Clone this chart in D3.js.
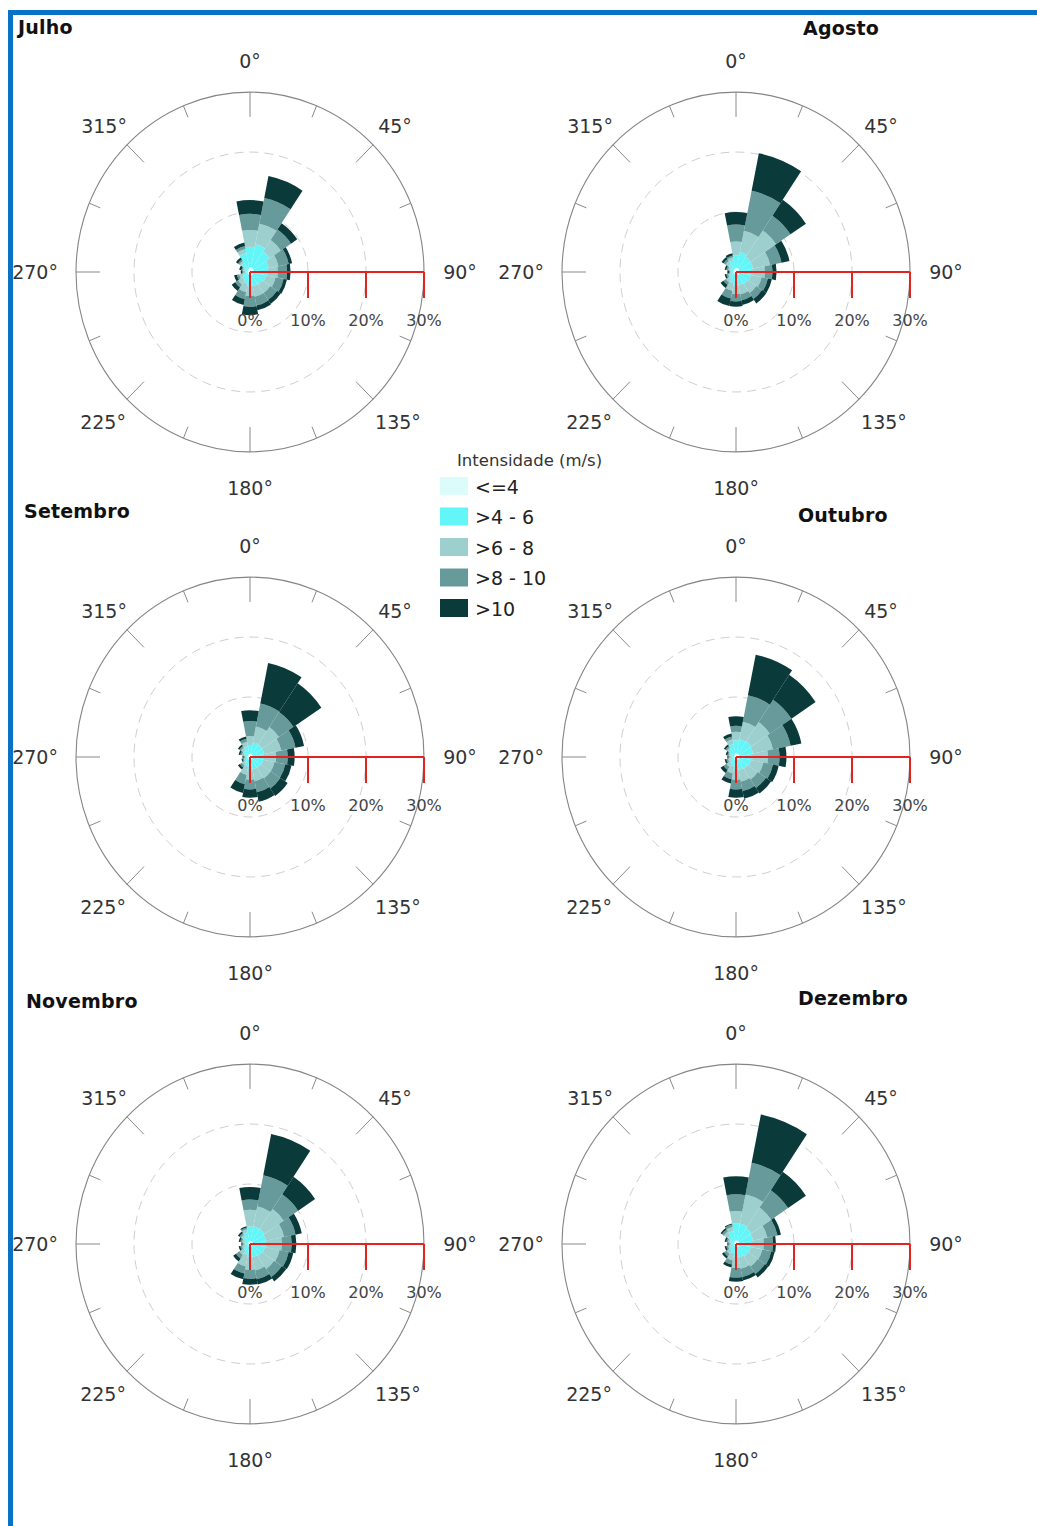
<!DOCTYPE html>
<html>
<head>
<meta charset="utf-8">
<script src="https://cdn.jsdelivr.net/npm/d3@7"></script>
<style>
  body { margin: 0; background: #fff; }
  svg { display: block; }
  text { font-family: "DejaVu Sans", Verdana, sans-serif; }
</style>
</head>
<body>
<svg id="chart" width="1037" height="1526"></svg>
<script>
// ---- data -------------------------------------------------------------
const directions = ["N","NNE","NE","ENE","E","ESE","SE","SSE","S","SSW","SW","WSW","W","WNW","NW","NNW"];
const classes = ["<=4", ">4 - 6", ">6 - 8", ">8 - 10", ">10"];
const classColors = ["#dcfbfb", "#62f6f9", "#9dcfcf", "#679b9b", "#0b3a3a"];
const angleTicks = [0, 45, 90, 135, 180, 225, 270, 315];
const pctTicks = [0, 10, 20, 30];
const months = ["Julho", "Agosto", "Setembro", "Outubro", "Novembro", "Dezembro"];

// frequency (%) per speed class (rows, same order as `classes`) and direction (columns)
const julho = [
  [0.8,0.8,0.7,0.7,0.6,0.6,0.6,0.6,0.5,0.5,0.5,0.4,0.4,0.4,0.5,0.6],
  [3.4,3.9,3.4,2.6,2.4,2.2,1.9,1.8,1.9,1.5,1.1,0.9,0.4,0.6,1.3,2.6],
  [2.8,3.5,2.3,1.7,1.8,1.7,1.7,1.8,1.6,1.4,0.9,0.6,0.3,0.3,0.4,0.7],
  [2.7,4.4,2.1,1.8,1.6,1.4,1.4,1.5,1.8,1.2,0.6,0.4,0.2,0.2,0.3,0.5],
  [2.3,3.7,1.3,0.6,0.6,0.6,0.8,0.8,1.4,1.0,0.7,0.5,0.3,0.4,0.4,0.6]
];
const agosto = [
  [0.7,0.7,0.7,0.6,0.6,0.6,0.6,0.5,0.5,0.5,0.4,0.4,0.4,0.4,0.5,0.6],
  [2.1,2.7,2.3,2.4,2.2,2.0,1.8,1.7,1.7,1.4,1.0,0.6,0.4,0.6,1.1,1.4],
  [2.3,3.6,5.3,3.0,2.2,1.9,1.8,1.6,1.5,1.3,0.7,0.4,0.2,0.4,0.6,0.5],
  [2.8,6.8,3.0,2.0,1.3,1.1,1.2,1.0,1.2,1.3,0.5,0.3,0.2,0.3,0.4,0.3],
  [2.1,6.4,3.2,1.4,0.7,0.7,0.9,0.8,0.9,1.3,0.6,0.3,0.3,0.3,0.4,0.4]
];
const setembro = [
  [0.5,0.5,0.5,0.5,0.5,0.5,0.5,0.5,0.5,0.4,0.4,0.3,0.3,0.3,0.4,0.5],
  [1.5,2.0,2.0,2.0,1.8,1.8,1.7,1.6,1.5,1.2,0.8,0.5,0.4,0.7,1.0,1.3],
  [1.5,2.7,3.5,3.0,2.2,2.0,2.1,2.0,1.8,1.4,0.5,0.3,0.2,0.4,0.5,0.8],
  [2.5,3.9,3.0,2.5,2.0,1.9,2.0,1.9,1.6,1.6,0.4,0.2,0.2,0.3,0.3,0.5],
  [1.8,6.9,5.8,1.5,1.2,1.1,1.5,1.6,1.4,1.5,0.4,0.2,0.2,0.3,0.3,0.4]
];
const outubro = [
  [0.6,0.6,0.6,0.6,0.6,0.6,0.6,0.5,0.5,0.5,0.4,0.4,0.3,0.3,0.4,0.5],
  [2.2,2.4,2.6,2.4,2.2,2.0,1.8,1.7,1.5,1.1,0.9,0.6,0.5,0.7,1.1,1.7],
  [1.4,3.0,3.8,3.5,2.7,2.2,2.1,2.0,1.8,1.2,0.7,0.4,0.3,0.3,0.4,0.8],
  [1.0,4.5,4.5,3.1,2.0,1.7,1.7,1.6,1.6,1.0,0.6,0.3,0.2,0.2,0.3,0.5],
  [1.6,6.9,5.0,1.9,1.2,1.0,1.1,1.3,1.4,0.7,0.6,0.3,0.2,0.3,0.3,0.5]
];
const novembro = [
  [0.5,0.5,0.5,0.5,0.5,0.5,0.5,0.5,0.5,0.4,0.4,0.3,0.3,0.3,0.4,0.5],
  [2.4,2.5,2.5,2.3,2.2,2.1,1.9,1.7,1.6,1.4,0.9,0.6,0.5,0.7,1.1,1.5],
  [2.8,3.4,4.0,3.2,2.8,2.6,2.6,2.3,2.2,2.0,0.9,0.5,0.3,0.4,0.4,0.5],
  [1.7,5.3,3.0,2.0,1.7,1.6,1.6,1.5,1.5,1.2,0.7,0.3,0.2,0.3,0.3,0.3],
  [2.1,7.0,3.5,1.1,0.8,0.8,0.9,0.9,1.0,1.0,0.6,0.3,0.2,0.3,0.3,0.2]
];
const dezembro = [
  [0.6,0.6,0.6,0.6,0.6,0.6,0.6,0.5,0.5,0.4,0.4,0.3,0.3,0.3,0.4,0.5],
  [2.9,2.9,2.6,2.4,2.2,2.0,1.9,1.8,1.6,1.2,0.9,0.7,0.5,0.7,1.3,1.7],
  [2.0,4.9,4.1,2.5,2.0,2.0,2.0,1.9,1.9,1.2,0.7,0.4,0.3,0.4,0.8,0.7],
  [2.8,5.4,3.5,1.8,1.6,1.6,1.5,1.4,1.6,0.7,0.5,0.3,0.2,0.3,0.4,0.4],
  [3.0,8.2,3.7,0.6,0.5,0.6,0.7,0.6,0.7,0.5,0.4,0.3,0.2,0.3,0.3,0.2]
];
const monthData = [julho, agosto, setembro, outubro, novembro, dezembro];

// ---- layout -----------------------------------------------------------
const panels = [
  { cx: 250, cy: 272,  tx: 18,  ty: 27 },
  { cx: 736, cy: 272,  tx: 803, ty: 28 },
  { cx: 250, cy: 757,  tx: 24,  ty: 511 },
  { cx: 736, cy: 757,  tx: 798, ty: 515 },
  { cx: 250, cy: 1244, tx: 26,  ty: 1001 },
  { cx: 736, cy: 1244, tx: 798, ty: 998 }
];
// label centre offsets around each rose, keyed by compass angle
const labelOffset = {
  0: [0, -211], 45: [145, -146], 90: [210, 0], 135: [148, 150],
  180: [0, 216], 225: [-147, 150], 270: [-215, 0], 315: [-146, -146]
};
const yStretch = 1.034;

const svg = d3.select("#chart");

// frame
svg.append("rect").attr("x", 8).attr("y", 10).attr("width", 1029).attr("height", 5).attr("fill", "#0a72c4");
svg.append("rect").attr("x", 8).attr("y", 10).attr("width", 5).attr("height", 1516).attr("fill", "#0a72c4");

const r = d3.scaleLinear().domain([0, 30]).range([0, 174]);
const ang = d3.scaleBand().domain(directions)
  .range([-Math.PI / 16, 2 * Math.PI - Math.PI / 16]).padding(0);
const arc = d3.arc();
const stack = d3.stack().keys(classes);

panels.forEach((p, i) => {
  const rows = monthData[i];
  const table = directions.map((d, j) => {
    const o = { dir: d };
    classes.forEach((c, k) => { o[c] = rows[k][j]; });
    return o;
  });
  const series = stack(table);

  const g = svg.append("g")
    .attr("transform", `translate(${p.cx},${p.cy}) scale(1,${yStretch})`);

  // grid
  g.append("circle").attr("r", r(30)).attr("fill", "none")
    .attr("stroke", "#858585").attr("stroke-width", 1.1).attr("vector-effect", "non-scaling-stroke");
  [10, 20].forEach(v => {
    g.append("circle").attr("r", r(v)).attr("fill", "none")
      .attr("stroke", "#cfcfcf").attr("stroke-width", 1)
      .attr("stroke-dasharray", "9,6").attr("vector-effect", "non-scaling-stroke");
  });
  d3.range(16).forEach(k => {
    const t = k * Math.PI / 8;
    const len = k % 2 === 0 ? 24 : 12;
    const r0 = r(30) - len, r1 = r(30);
    g.append("line")
      .attr("x1", r0 * Math.sin(t)).attr("y1", -r0 * Math.cos(t))
      .attr("x2", r1 * Math.sin(t)).attr("y2", -r1 * Math.cos(t))
      .attr("stroke", "#8a8a8a").attr("stroke-width", 1)
      .attr("vector-effect", "non-scaling-stroke");
  });

  // stacked sectors
  series.forEach((s, k) => {
    g.selectAll(null).data(s).enter().append("path")
      .attr("d", d => arc({
        innerRadius: r(d[0]), outerRadius: r(d[1]),
        startAngle: ang(d.data.dir), endAngle: ang(d.data.dir) + ang.bandwidth()
      }))
      .attr("fill", classColors[k]);
  });

  // radial scale axis
  const ax = svg.append("g").attr("transform", `translate(${p.cx},${p.cy})`);
  ax.append("line").attr("x1", r(0)).attr("x2", r(30)).attr("y1", 0).attr("y2", 0)
    .attr("stroke", "#e2231f").attr("stroke-width", 2);
  pctTicks.forEach(v => {
    ax.append("line").attr("x1", r(v)).attr("x2", r(v)).attr("y1", 0).attr("y2", 26)
      .attr("stroke", "#e2231f").attr("stroke-width", 2);
    ax.append("text").attr("x", r(v)).attr("y", 48)
      .attr("text-anchor", "middle").attr("dominant-baseline", "central")
      .attr("font-size", 16).attr("fill", "#444").text(v + "%");
  });

  // compass labels
  angleTicks.forEach(a => {
    const [dx, dy] = labelOffset[a];
    ax.append("text")
      .attr("x", dx).attr("y", dy)
      .attr("text-anchor", "middle").attr("dominant-baseline", "central")
      .attr("font-size", 19).attr("fill", "#333").text(a + "°");
  });

  // month title
  svg.append("text").attr("x", p.tx).attr("y", p.ty)
    .attr("dominant-baseline", "central")
    .attr("font-size", 19).attr("font-weight", "bold").attr("letter-spacing", 0.2)
    .attr("fill", "#111").text(months[i]);
});

// legend
const lg = svg.append("g");
lg.append("text").attr("x", 457).attr("y", 460).attr("dominant-baseline", "central")
  .attr("font-size", 16.5).attr("fill", "#333").text("Intensidade (m/s)");
classes.forEach((c, k) => {
  const y = 477 + k * 30.5;
  lg.append("rect").attr("x", 440).attr("y", y).attr("width", 28).attr("height", 18)
    .attr("fill", classColors[k]);
  lg.append("text").attr("x", 475).attr("y", y + 9.5).attr("dominant-baseline", "central")
    .attr("font-size", 19).attr("fill", "#222").text(c);
});
</script>
</body>
</html>
